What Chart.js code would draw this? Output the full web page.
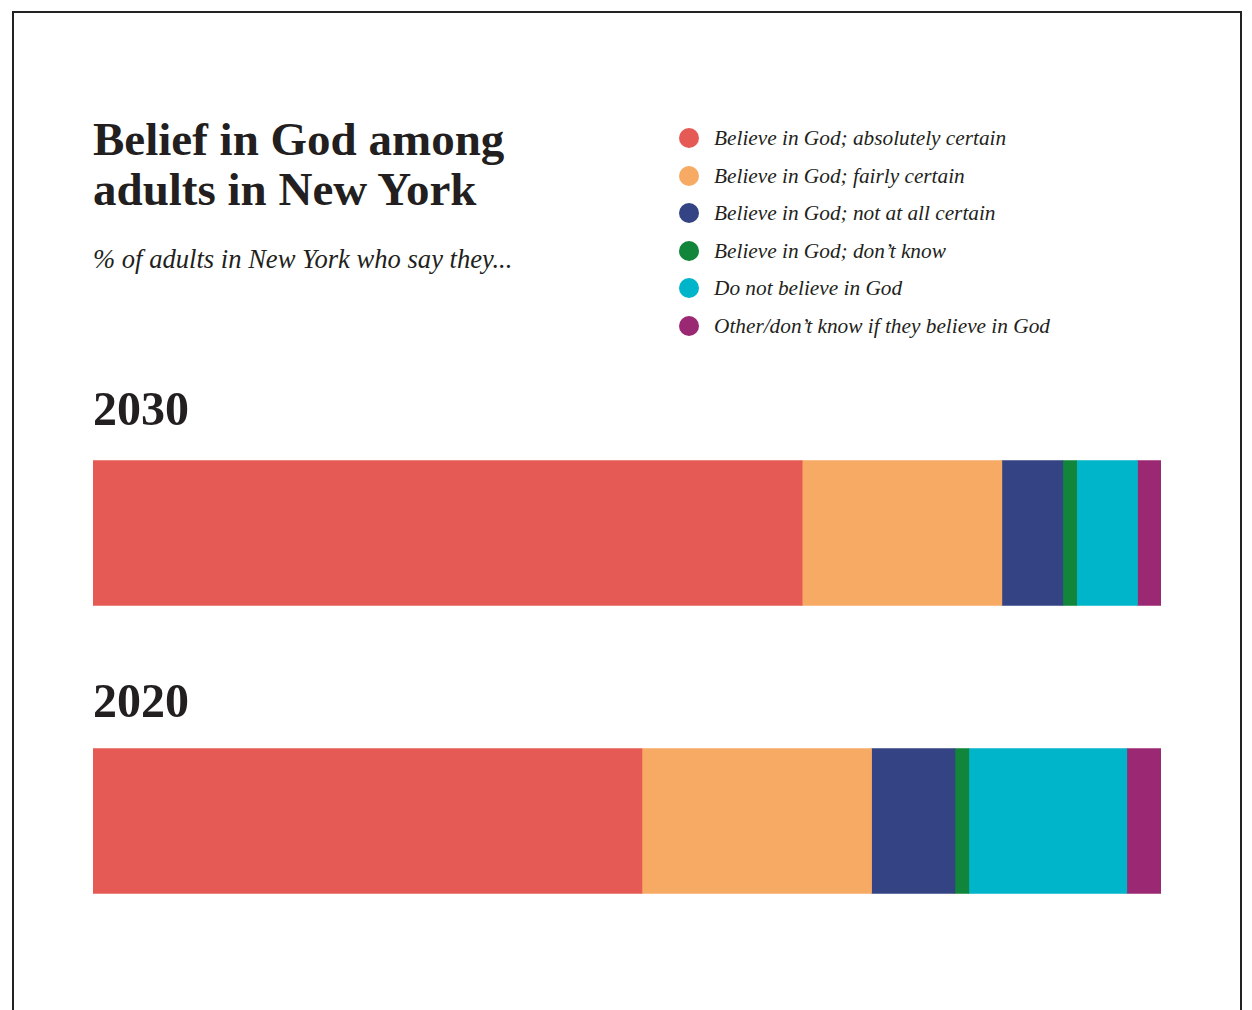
<!DOCTYPE html>
<html>
<head>
<meta charset="utf-8">
<script src="https://cdn.jsdelivr.net/npm/chart.js@4.4.1/dist/chart.umd.min.js"></script>
<style>
  html, body { margin: 0; padding: 0; background: #fff; overflow: hidden; }
  body { width: 1252px; height: 1010px; position: relative; font-family: "Liberation Serif", serif; color: #231f20; }
  #frame { position: absolute; left: 12px; top: 11px; width: 1226px; height: 1100px; border: 2px solid #222; }
  .title { position: absolute; left: 93px; top: 114px; font-size: 47px; line-height: 50px; font-weight: bold; }
  .subtitle { position: absolute; left: 93px; top: 244px; font-size: 26.6px; line-height: 30px; font-style: italic; }
  .legend-row { position: absolute; left: 679px; height: 38px; line-height: 38px; font-size: 21.3px; font-style: italic; white-space: nowrap; }
  .legend-row .dot { position: absolute; left: 0; top: 9px; width: 20px; height: 20px; border-radius: 50%; }
  .legend-row .txt { position: absolute; left: 35px; top: 0; }
  .year { position: absolute; left: 93px; font-size: 48px; line-height: 50px; font-weight: bold; z-index: 2; }
  #barChart { position: absolute; left: 93px; top: 389px; }
</style>
</head>
<body>
<div id="frame"></div>
<div class="title">Belief in God among<br>adults in New York</div>
<div class="subtitle">% of adults in New York who say they...</div>
<div id="legend"></div>
<canvas id="barChart" width="1068" height="576"></canvas>
<script>
'use strict';

const years = ['2030', '2020'];
const categories = [
  'Believe in God; absolutely certain',
  'Believe in God; fairly certain',
  'Believe in God; not at all certain',
  "Believe in God; don\u2019t know",
  'Do not believe in God',
  "Other/don\u2019t know if they believe in God"
];
const colors = ['#e55a55', '#f7aa63', '#344383', '#118539', '#00b4c9', '#9b2872'];
// values per category: [2030, 2020]
const absolutelyCertain = [66.4, 51.4];
const fairlyCertain = [18.7, 21.5];
const notAtAllCertain = [5.7, 7.8];
const dontKnow = [1.3, 1.3];
const doNotBelieve = [5.7, 14.8];
const otherDontKnow = [2.2, 3.2];

const seriesValues = [absolutelyCertain, fairlyCertain, notAtAllCertain, dontKnow, doNotBelieve, otherDontKnow];

// legend
let legend = document.querySelector('#legend');
let legendCenters = [138, 175.5, 213, 250.5, 288, 326];
categories.forEach(function(label, i){
  let row = document.createElement('div');
  row.className = 'legend-row';
  row.style.top = (legendCenters[i] - 19) + 'px';
  row.innerHTML = '<span class="dot" style="background:' + colors[i] + '"></span><span class="txt"></span>';
  row.querySelector('.txt').textContent = label;
  legend.appendChild(row);
});

// year labels
let yearTops = [384, 676];
years.forEach(function(y, i){
  let d = document.createElement('div');
  d.className = 'year';
  d.style.top = yearTops[i] + 'px';
  d.textContent = y;
  document.body.appendChild(d);
});

let context = document.querySelector('#barChart').getContext('2d');
new Chart(context, {
  type: 'bar',
  data: {
    labels: years,
    datasets: categories.map(function(label, i){
      return {
        label: label,
        data: seriesValues[i],
        backgroundColor: colors[i],
        borderWidth: 0,
        barThickness: 145
      };
    })
  },
  options: {
    indexAxis: 'y',
    responsive: false,
    animation: false,
    devicePixelRatio: 1,
    layout: { padding: 0 },
    plugins: {
      legend: { display: false },
      tooltip: { enabled: false }
    },
    scales: {
      x: { stacked: true, min: 0, max: 100, display: false },
      y: { stacked: true, display: false }
    }
  }
});
</script>
</body>
</html>
